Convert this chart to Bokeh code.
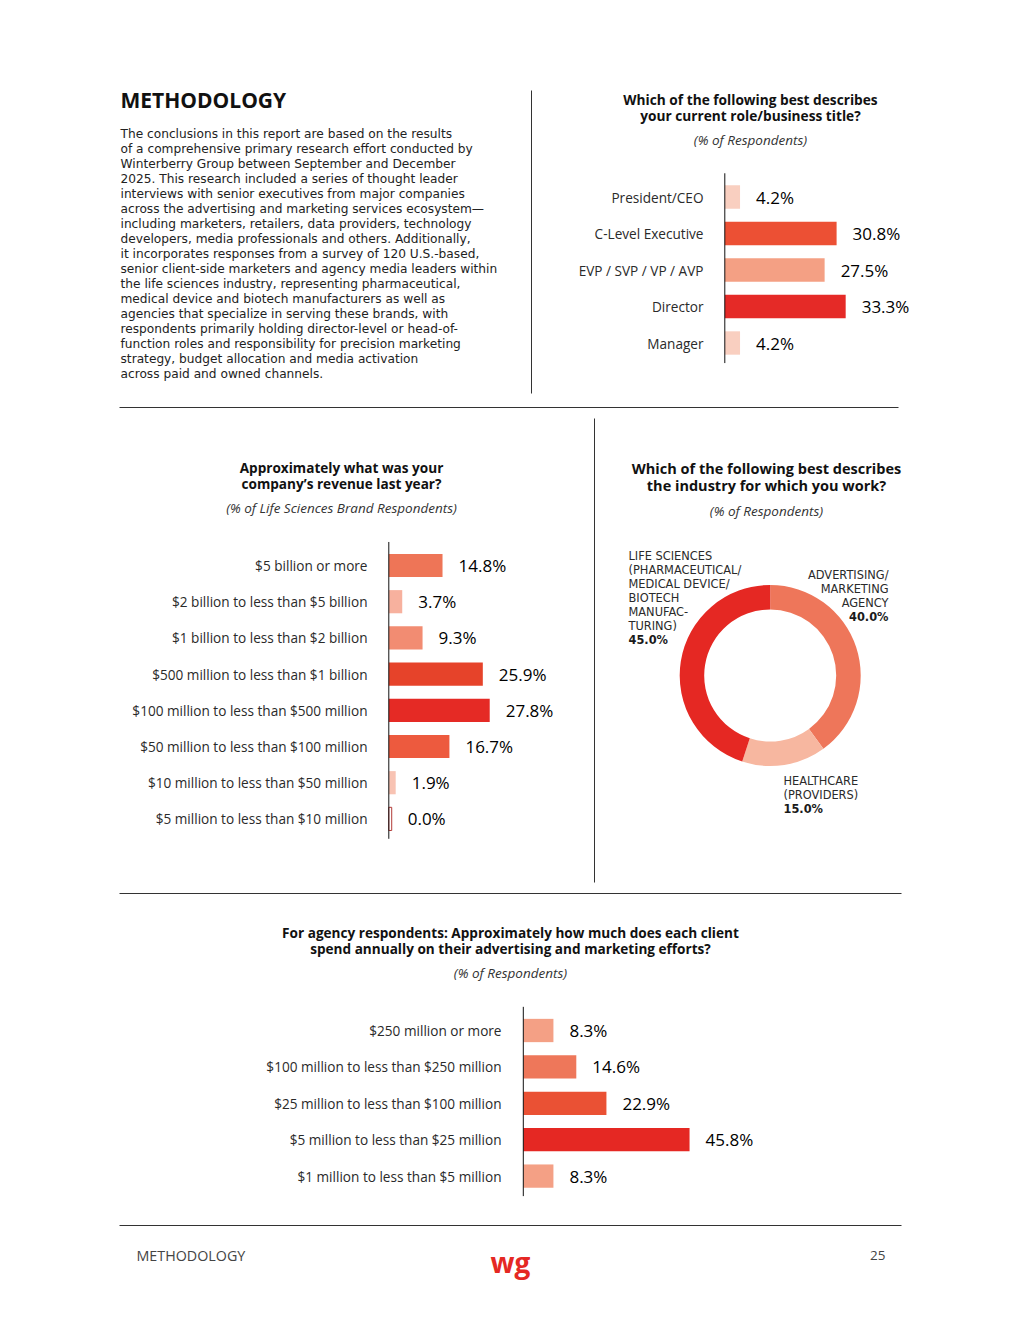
import math
from bokeh.plotting import figure
from bokeh.models import Range1d, ColumnDataSource
from bokeh.core.properties import value
from bokeh.embed import file_html
from bokeh.resources import INLINE

# ---------------- DATA ----------------
role_labels = ["President/CEO", "C-Level Executive", "EVP / SVP / VP / AVP", "Director", "Manager"]
role_values = [4.2, 30.8, 27.5, 33.3, 4.2]

revenue_labels = ["$5 billion or more", "$2 billion to less than $5 billion",
                  "$1 billion to less than $2 billion", "$500 million to less than $1 billion",
                  "$100 million to less than $500 million", "$50 million to less than $100 million",
                  "$10 million to less than $50 million", "$5 million to less than $10 million"]
revenue_values = [14.8, 3.7, 9.3, 25.9, 27.8, 16.7, 1.9, 0.0]

industry_names = ["Advertising/Marketing Agency", "Healthcare (Providers)", "Life Sciences"]
industry_values = [40.0, 15.0, 45.0]
industry_label_lines = [
    ["ADVERTISING/", "MARKETING", "AGENCY"],
    ["HEALTHCARE", "(PROVIDERS)"],
    ["LIFE SCIENCES", "(PHARMACEUTICAL/", "MEDICAL DEVICE/", "BIOTECH", "MANUFAC-", "TURING)"],
]

spend_labels = ["$250 million or more", "$100 million to less than $250 million",
                "$25 million to less than $100 million", "$5 million to less than $25 million",
                "$1 million to less than $5 million"]
spend_values = [8.3, 14.6, 22.9, 45.8, 8.3]

heading = "METHODOLOGY"
body_lines = [
    "The conclusions in this report are based on the results",
    "of a comprehensive primary research effort conducted by",
    "Winterberry Group between September and December",
    "2025. This research included a series of thought leader",
    "interviews with senior executives from major companies",
    "across the advertising and marketing services ecosystem\u2014",
    "including marketers, retailers, data providers, technology",
    "developers, media professionals and others. Additionally,",
    "it incorporates responses from a survey of 120 U.S.-based,",
    "senior client-side marketers and agency media leaders within",
    "the life sciences industry, representing pharmaceutical,",
    "medical device and biotech manufacturers as well as",
    "agencies that specialize in serving these brands, with",
    "respondents primarily holding director-level or head-of-",
    "function roles and responsibility for precision marketing",
    "strategy, budget allocation and media activation",
    "across paid and owned channels.",
]
role_title = ["Which of the following best describes", "your current role/business title?"]
role_sub = "(% of Respondents)"
revenue_title = ["Approximately what was your", "company\u2019s revenue last year?"]
revenue_sub = "(% of Life Sciences Brand Respondents)"
industry_title = ["Which of the following best describes", "the industry for which you work?"]
industry_sub = "(% of Respondents)"
spend_title = ["For agency respondents: Approximately how much does each client",
               "spend annually on their advertising and marketing efforts?"]
spend_sub = "(% of Respondents)"
footer_left = "METHODOLOGY"
footer_page = "25"
logo = "wg"

# ---------------- STYLE ----------------
role_colors = ["#F9CFC0", "#EC5034", "#F4A084", "#E52A27", "#F9CFC0"]
revenue_colors = ["#EE7557", "#F7B19E", "#F28C72", "#E6432A", "#E52A25", "#ED5A3E", "#F8C3B3", "#FFFFFF"]
industry_colors = ["#EE765A", "#F7B7A0", "#E52823"]
spend_colors = ["#F4A085", "#EE775A", "#EA5134", "#E52823", "#F4A085"]

FONT = "Open Sans"
BODY_FONT = "DejaVu Sans"
TITLE_FONT = "Open Sans"
PX_PER_PCT = 3.63
X0, X1, Y0, Y1 = 0, 1004, 0, 1304

p = figure(width=1004, height=1304, x_range=Range1d(X0, X1), y_range=Range1d(Y1, Y0),
           output_backend="svg", toolbar_location=None, min_border=0,
           x_axis_location=None, y_axis_location=None)
p.grid.visible = False
p.outline_line_color = None
p.background_fill_color = "white"
p.border_fill_color = "white"


def txt(x, y, t, size, align="left", style="normal", color="#222222", font=FONT, baseline="middle"):
    p.text(x=[x], y=[y], text=[t], text_font=value(font), text_font_size=f"{size}px",
           text_align=align, text_baseline=baseline, text_font_style=style, text_color=color)


def bar_chart(name, labels, values, colors, zero_x, row0_y, step, label_right_x):
    n = len(values)
    p.extra_x_ranges[name] = Range1d((X0 - zero_x) / PX_PER_PCT, (X1 - zero_x) / PX_PER_PCT)
    p.extra_y_ranges[name] = Range1d((Y1 - row0_y) / step, (Y0 - row0_y) / step)
    idx = list(range(n))
    vx = [max(v, 0.8) for v in values]
    src = ColumnDataSource(dict(
        y=idx, v=values, vx=vx, c=colors,
        la=[0.0 if v > 0 else 1.0 for v in values],
        lab=labels, vt=[f"{v:.1f}%" for v in values]))
    p.hbar(y="y", left=0, right="vx", height=0.64, fill_color="c", line_color="#B23A36",
           line_alpha="la", line_width=1, source=src, x_range_name=name, y_range_name=name)
    p.segment(x0=[0], y0=[-0.65], x1=[0], y1=[n - 0.45], line_color="#111111", line_width=1,
              x_range_name=name, y_range_name=name)
    p.text(x=[label_right_x] * n, y=idx, text=labels, y_range_name=name,
           text_font=value(FONT), text_font_size="13.6px", text_align="right",
           text_baseline="middle", text_color="#2A2A2A")
    p.text(x="vx", y="y", text="vt", source=src, x_offset=16, x_range_name=name, y_range_name=name,
           text_font=value(FONT), text_font_size="17px", text_align="left",
           text_baseline="middle", text_color="#000000")


def titled(lines, sub, cx, y_first, line_step, sub_y, size):
    for i, t in enumerate(lines):
        txt(cx, y_first + i * line_step, t, size, align="center", style="bold",
            color="#111111", font=TITLE_FONT)
    txt(cx, sub_y, sub, 13.5, align="center", style="italic", color="#333333")


# separators
p.segment(x0=[531, 119, 594, 119, 119], y0=[90, 407, 418, 893, 1225],
          x1=[531, 898, 594, 901, 901], y1=[393, 407, 882, 893, 1225],
          line_color="#333333", line_width=1)

# methodology text
txt(120, 99, heading, 21, style="bold", color="#111111", font=TITLE_FONT)
for i, line in enumerate(body_lines):
    txt(120, 133 + 15 * i, line, 12.2, color="#222222", font=BODY_FONT)

# chart 1: roles
titled(role_title, role_sub, 750, 99, 16, 139, 13.7)
bar_chart("roles", role_labels, role_values, role_colors, 724.3, 196.5, 36.5, 703)

# chart 2: revenue
titled(revenue_title, revenue_sub, 341, 467, 16, 507, 13.6)
bar_chart("revenue", revenue_labels, revenue_values, revenue_colors, 388.3, 565, 36.2, 367)

# chart 3: industry donut
titled(industry_title, industry_sub, 766, 468, 17, 510, 14.5)
cum = [0.0]
for v in industry_values:
    cum.append(cum[-1] + v)
total = cum[-1]
starts = [math.pi / 2 - 2 * math.pi * c / total for c in cum[:-1]]
ends = [math.pi / 2 - 2 * math.pi * c / total for c in cum[1:]]
p.annular_wedge(x=769.7, y=675, inner_radius=66, outer_radius=90.5,
                start_angle=starts, end_angle=ends, direction="clock",
                fill_color=industry_colors, line_color=None)
# donut labels
label_anchor = [(888, 574, "right"), (783, 780, "left"), (628, 555, "left")]
for (ax, ay, al), lines, v in zip(label_anchor, industry_label_lines, industry_values):
    for j, t in enumerate(lines):
        txt(ax, ay + 14 * j, t, 11.4, align=al, color="#2A2A2A", font=BODY_FONT)
    txt(ax, ay + 14 * len(lines), f"{v:.1f}%", 11.4, align=al, style="bold", color="#1A1A1A",
        font=BODY_FONT)

# chart 4: agency spend
titled(spend_title, spend_sub, 510, 932, 16, 972, 13.6)
bar_chart("spend", spend_labels, spend_values, spend_colors, 522.8, 1030, 36.4, 501)

# footer
txt(136, 1255, footer_left, 14.3, color="#444444")
txt(885, 1255, footer_page, 13.5, align="right", color="#444444")
txt(510, 1261, logo, 28, align="center", style="bold", color="#E52823", baseline="alphabetic")

open("out.html", "w").write(file_html(p, INLINE))
